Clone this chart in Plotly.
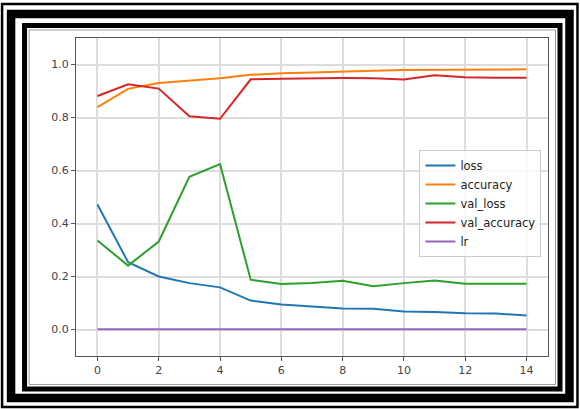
import plotly.graph_objects as go

epochs = list(range(15))
loss = [0.472, 0.254, 0.200, 0.175, 0.159, 0.109, 0.094, 0.086, 0.079, 0.078, 0.068, 0.066, 0.061, 0.060, 0.053]
accuracy = [0.839, 0.908, 0.930, 0.940, 0.948, 0.961, 0.967, 0.970, 0.972, 0.976, 0.979, 0.980, 0.981, 0.981, 0.982]
val_loss = [0.336, 0.241, 0.332, 0.576, 0.624, 0.188, 0.172, 0.175, 0.184, 0.163, 0.175, 0.185, 0.173, 0.173, 0.173]
val_accuracy = [0.881, 0.925, 0.909, 0.805, 0.795, 0.944, 0.946, 0.948, 0.949, 0.948, 0.943, 0.959, 0.952, 0.950, 0.950]
lr = [0.001] * 15

series_names = ["loss", "accuracy", "val_loss", "val_accuracy", "lr"]
series_values = [loss, accuracy, val_loss, val_accuracy, lr]
colors = ["#1f77b4", "#ff7f0e", "#2ca02c", "#d62728", "#9467bd"]

x_ticks = list(range(0, 15, 2))
y_ticks = [0.0, 0.2, 0.4, 0.6, 0.8, 1.0]

W, H = 580, 409
ml, mr, mt, mb = 76, 31.5, 38, 52.5
pw, ph = W - ml - mr, H - mt - mb

fig = go.Figure()
for name, vals, c in zip(series_names, series_values, colors):
    fig.add_trace(go.Scatter(x=epochs, y=vals, name=name, mode="lines",
                             line=dict(color=c, width=2)))

def px2paper(x, y):
    return (x - ml) / pw, (H - mb - y) / ph

shapes = []
def rect(x0, y0, x1, y1, w, color="black"):
    a = px2paper(x0, y0)
    b = px2paper(x1, y1)
    shapes.append(dict(type="rect", xref="paper", yref="paper",
                       x0=a[0], y0=a[1], x1=b[0], y1=b[1],
                       line=dict(color=color, width=w), fillcolor="rgba(0,0,0,0)",
                       layer="above"))

rect(2, 4, 578, 407.5, 2.5)
rect(11, 14, 570, 398.5, 8.5)
rect(24.5, 25.5, 560.5, 389.5, 5)
rect(29, 30, 556, 385, 1, "#999999")

fig.update_layout(
    width=W, height=H,
    margin=dict(l=ml, r=mr, t=mt, b=mb),
    paper_bgcolor="white", plot_bgcolor="white",
    font=dict(family="DejaVu Sans", size=11, color="#333333"),
    shapes=shapes,
    showlegend=True,
    legend=dict(x=0.986, y=0.648, xanchor="right", yanchor="top",
                bgcolor="rgba(255,255,255,0.8)", bordercolor="#cccccc", borderwidth=1,
                font=dict(size=11.5, color="#222222"), tracegroupgap=0,
                itemwidth=30),
    xaxis=dict(range=[-0.7, 14.7], tickvals=x_ticks, ticks="outside", ticklen=4,
               tickcolor="#555555", showgrid=True, gridcolor="#dddddd", gridwidth=1.5,
               showline=True, linecolor="#555555", linewidth=1, mirror=True,
               zeroline=False, tickfont=dict(size=11, color="#444444")),
    yaxis=dict(range=[-0.1, 1.1], tickvals=y_ticks, tickformat=".1f", ticks="outside",
               ticklen=4, tickcolor="#555555", showgrid=True, gridcolor="#dddddd",
               gridwidth=1.5, showline=True, linecolor="#555555", linewidth=1,
               mirror=True, zeroline=False, tickfont=dict(size=11, color="#444444")),
)

fig.write_html("out.html")
